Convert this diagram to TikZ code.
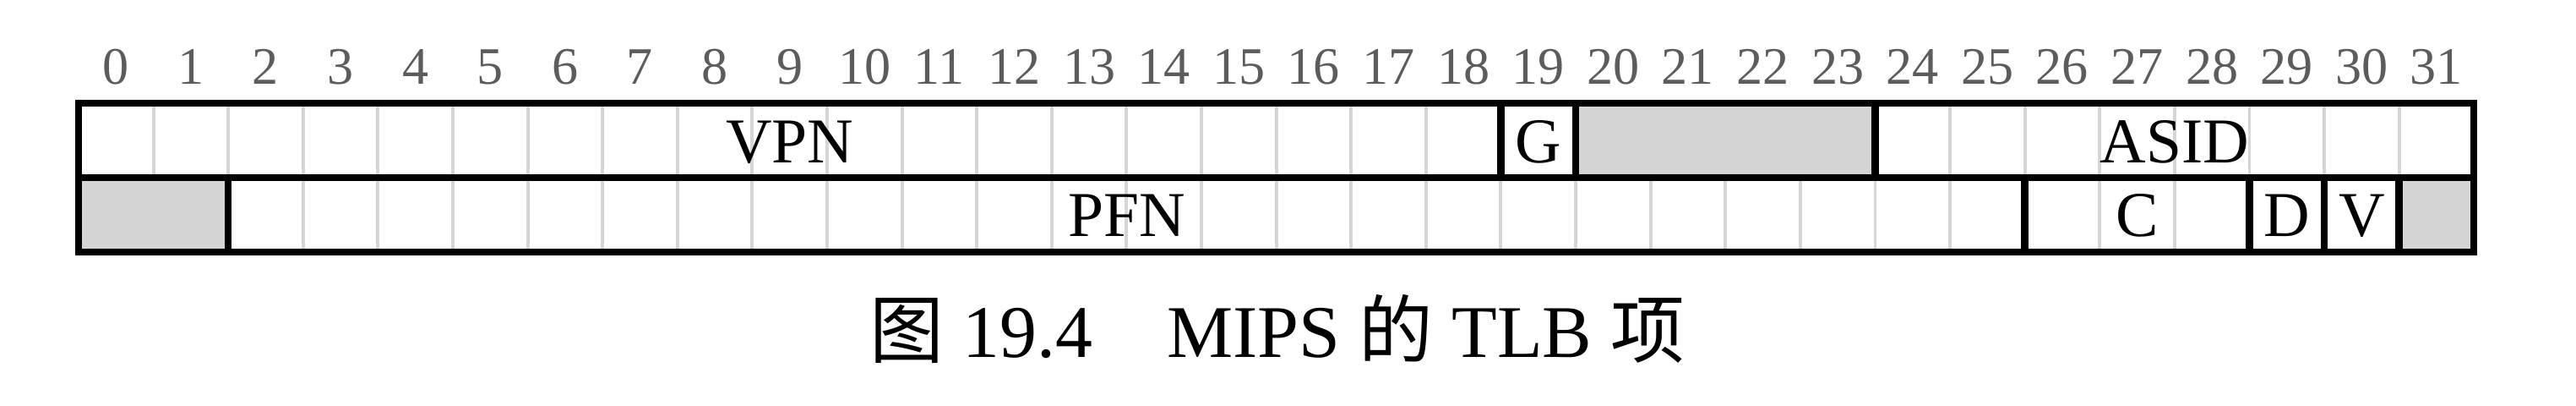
\documentclass[tikz,border=0pt]{standalone}
\usepackage{fontspec}
\setmainfont{Liberation Serif}
\newfontfamily\cjk{Noto Sans CJK SC}
\definecolor{bitgray}{HTML}{5C5C5C}
\definecolor{cellgray}{HTML}{D4D4D4}
\definecolor{gridgray}{HTML}{D6D6D6}
\tikzset{
  bitnum/.style={anchor=base, inner sep=0pt, text=bitgray, font=\fontsize{17.7}{20}\selectfont},
  fieldlabel/.style={anchor=base, inner sep=0pt, font=\fontsize{21.5}{24}\selectfont},
  gridline/.style={gridgray, line width=1.1pt},
  fieldline/.style={line width=2.4pt},
}
\begin{document}
\begin{tikzpicture}
  \useasboundingbox (0,0) rectangle (30.49,4.8);
  \begin{scope}[xshift=0.93cm, x=0.886cm]
    % bit numbers
    \foreach \i in {0,...,31}
      \node[bitnum] (b\i) at (\i+0.5, 3.80) {\i};
    % bit grid
    \foreach \i in {1,...,31}
      \draw[gridline] (\i, 1.82)--(\i, 3.58);
    % reserved bits
    \fill[cellgray] (20, 2.70) rectangle (24, 3.58);
    \fill[cellgray] (0, 1.82) rectangle (2, 2.70);
    \fill[cellgray] (31, 1.82) rectangle (32, 2.70);
    % field borders
    \draw[fieldline] (0, 1.82) rectangle (32, 3.58);
    \draw[fieldline] (0, 2.70)--(32, 2.70);
    \foreach \i in {19, 20, 24}
      \draw[fieldline] (\i, 2.70)--(\i, 3.58);
    \foreach \i in {2, 26, 29, 30, 31}
      \draw[fieldline] (\i, 1.82)--(\i, 2.70);
    % field names
    \node[fieldlabel] (vpn) at (9.5, 2.87) {VPN};
    \node[fieldlabel] (g) at (19.5, 2.87) {G};
    \node[fieldlabel] (asid) at (28, 2.87) {ASID};
    \node[fieldlabel] (pfn) at (14, 2.00) {PFN};
    \node[fieldlabel] (c) at (27.5, 2.00) {C};
    \node[fieldlabel] (d) at (29.5, 2.00) {D};
    \node[fieldlabel] (v) at (30.5, 2.00) {V};
  \end{scope}
  \node[anchor=base, inner sep=0pt, font=\fontsize{25}{28}\selectfont] (caption) at (15.12, 0.57)
    {{\cjk 图} 19.4\hspace{1em}MIPS {\cjk 的} TLB {\cjk 项}};
\end{tikzpicture}
\end{document}
